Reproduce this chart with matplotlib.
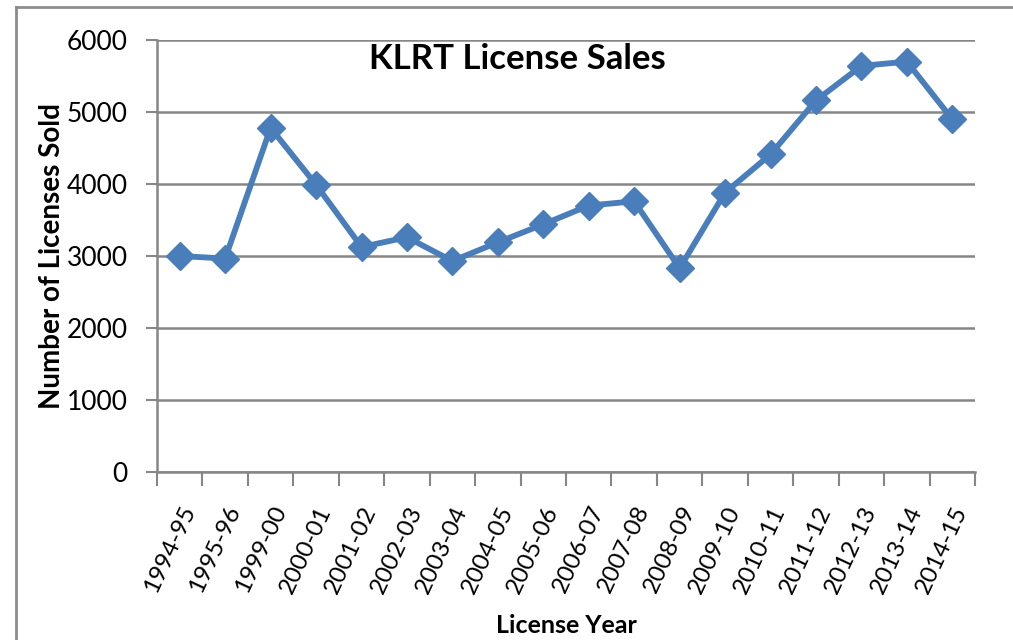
import matplotlib.pyplot as plt
from matplotlib.lines import Line2D

years = ["1994-95", "1995-96", "1999-00", "2000-01", "2001-02", "2002-03",
         "2003-04", "2004-05", "2005-06", "2006-07", "2007-08", "2008-09",
         "2009-10", "2010-11", "2011-12", "2012-13", "2013-14", "2014-15"]
sold = [3000, 2965, 4780, 3990, 3125, 3260, 2930, 3190, 3440, 3700,
        3760, 2830, 3880, 4410, 5160, 5640, 5700, 4900]

plt.rcParams['font.family'] = ['Lato', 'DejaVu Sans']

fig = plt.figure(figsize=(10.13, 6.4), dpi=100)
ax = fig.add_axes([157 / 1013, 1 - 472 / 640, 818 / 1013, 432 / 640])

# outer chart frame (left and top edges only are visible)
fx = 15.5 / 1013
fy = 1 - 6.5 / 640
fig.add_artist(Line2D([fx, fx], [0, fy], color='#8c8c8c', linewidth=2,
                      transform=fig.transFigure))
fig.add_artist(Line2D([fx, 1], [fy, fy], color='#8c8c8c', linewidth=2,
                      transform=fig.transFigure))

grey = '#868686'
x = list(range(len(years)))
ax.plot(x, sold, color='#4A7EBB', linewidth=4.2, marker='D', markersize=14,
        zorder=3, clip_on=False)

ax.set_xlim(-0.5, len(years) - 0.5)
ax.set_ylim(0, 6000)
ax.set_yticks(range(0, 6001, 1000))
ax.yaxis.grid(True, color=grey, linewidth=1.8)
ax.set_axisbelow(True)

ax.set_xticks(x)
ax.set_xticklabels(years, rotation=65, ha='right', rotation_mode='anchor',
                   fontsize=17.5)
ax.set_xticks([i - 0.5 for i in range(len(years) + 1)], minor=True)
ax.tick_params(axis='x', which='major', length=0, pad=22)
ax.tick_params(axis='x', which='minor', length=10, width=1.5, color=grey)
ax.tick_params(axis='y', length=8, width=1.5, color=grey, labelsize=19, pad=13)

for side in ['top', 'right']:
    ax.spines[side].set_visible(False)
for side in ['left', 'bottom']:
    ax.spines[side].set_color(grey)
    ax.spines[side].set_linewidth(1.8)

ax.set_ylabel("Number of Licenses Sold", fontsize=20, fontweight='bold')
ax.yaxis.set_label_coords(-0.112, 0.5)
ax.set_xlabel("License Year", fontsize=18, fontweight='bold', labelpad=13)
ax.text(0.44, 0.955, "KLRT License Sales", transform=ax.transAxes,
        fontsize=25, fontweight='bold', ha='center', va='center')

fig.savefig("out.png", dpi=100)
